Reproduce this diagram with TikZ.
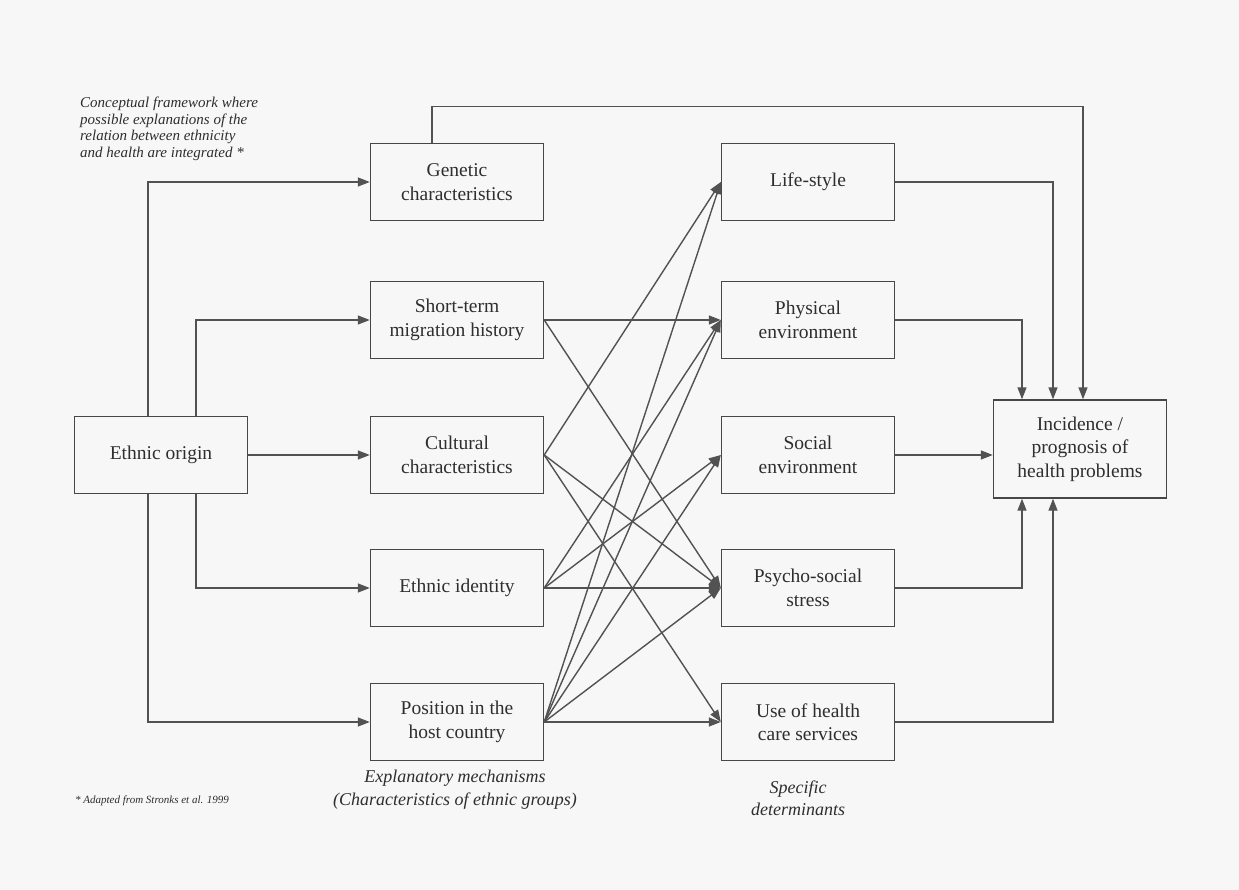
\documentclass[tikz,border=0pt]{standalone}
\usepackage{fontspec}
\setmainfont{Liberation Serif}
\usetikzlibrary{arrows.meta}

\begin{document}
\begin{tikzpicture}[x=1pt,y=-1pt,>={Triangle[length=12pt,width=9pt]}]

        \fill [black!3] (0,0) rectangle (1239,890);

        \begin{scope}[every node/.style={draw=black!72,line width=1.4pt,text=black!82,minimum width=173pt,minimum height=77pt,align=center,font=\fontsize{19.5}{23.5}\selectfont}]
            \node (0) at (161,455) {Ethnic origin};
            \node (1) at (457,182) {Genetic\\characteristics};
            \node (2) at (457,320) {Short-term\\migration history};
            \node (3) at (457,455) {Cultural\\characteristics};
            \node (4) at (457,588) {Ethnic identity};
            \node (5) at (457,722) {Position in the\\host country};
            \node (6) at (808,182) {Life-style};
            \node (7) at (808,320) {Physical\\environment};
            \node (8) at (808,455) {Social\\environment};
            \node (9) at (808,588) {Psycho-social\\stress};
            \node (10) at (808,722) {Use of health\\care services};
            \node (11) [minimum height=98pt] at (1080,449) {Incidence /\\prognosis of\\health problems};
        \end{scope}

        \begin{scope}[every node/.style={text=black!82,inner sep=0pt}]
            \node (head) [anchor=north west,align=left,font=\fontsize{15}{16.5}\selectfont\itshape] at (80,97) {Conceptual framework where\\possible explanations of the\\relation between ethnicity\\and health are integrated *};
            \node (mech) [align=center,font=\fontsize{18}{23}\selectfont\itshape] at (455,790) {Explanatory mechanisms\\(Characteristics of ethnic groups)};
            \node (det) [align=center,font=\fontsize{18}{22}\selectfont\itshape] at (798,798) {Specific\\determinants};
            \node (src) [anchor=west,font=\fontsize{11}{13}\selectfont\itshape] at (75,801) {* Adapted from Stronks et al. 1999};
        \end{scope}

        \begin{scope}[draw=black!68,line width=1.4pt,every edge/.style={draw=black!68,line width=1.4pt}]
            \path [->] (0) edge (3);
            \draw [->] ([xshift=-13pt]0.north) |- (1);
            \draw [->] ([xshift=35pt]0.north) |- (2);
            \draw [->] ([xshift=35pt]0.south) |- (4);
            \draw [->] ([xshift=-13pt]0.south) |- (5);

            \draw [->] ([xshift=-25pt]1.north) -- ++(0,-36) -| ([xshift=3pt]11.north);

            \path [->] (2.east) edge (7.west);
            \path [->] (2.east) edge (9.west);

            \path [->] (3.east) edge (6.west);
            \path [->] (3.east) edge (9.west);
            \path [->] (3.east) edge (10.west);

            \path [->] (4.east) edge (7.west);
            \path [->] (4.east) edge (8.west);
            \path [->] (4.east) edge (9.west);

            \path [->] (5.east) edge (6.west);
            \path [->] (5.east) edge (7.west);
            \path [->] (5.east) edge (8.west);
            \path [->] (5.east) edge (9.west);
            \path [->] (5.east) edge (10.west);

            \draw [->] (6) -| ([xshift=-27pt]11.north);
            \draw [->] (7) -| ([xshift=-58pt]11.north);
            \draw [->] (8) -- (8 -| 11.west);
            \draw [->] (9) -| ([xshift=-58pt]11.south);
            \draw [->] (10) -| ([xshift=-27pt]11.south);
        \end{scope}

    \end{tikzpicture}
\end{document}
